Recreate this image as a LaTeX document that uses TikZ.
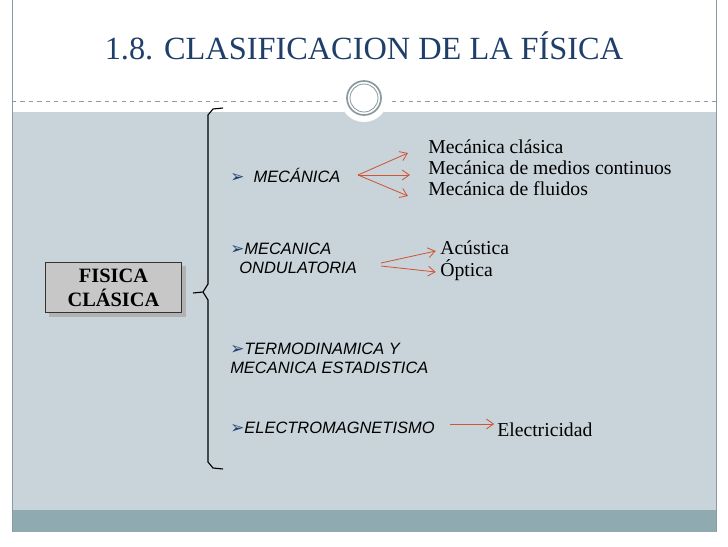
\documentclass[tikz,border=0pt]{standalone}
\usepackage{fontspec}
\setmainfont{Liberation Serif}
\setsansfont{Liberation Sans}
\newfontfamily\symbolfont{DejaVu Sans}
\usepackage{tikz}
\usetikzlibrary{arrows.meta, positioning, decorations.pathreplacing}
\definecolor{titleblue}{HTML}{1F3F6A}
\definecolor{panelgray}{HTML}{C9D4DA}
\definecolor{bandteal}{HTML}{8FAAB1}
\definecolor{arrowred}{HTML}{D0563A}
\definecolor{framegray}{HTML}{8A9AA0}
\newcommand{\bul}{\textcolor{titleblue}{\upshape\symbolfont\fontsize{12}{12}\selectfont ➢}}
\tikzset{
  topic/.style={font=\sffamily\itshape\fontsize{11.7}{13.5}\selectfont, anchor=west, align=left, inner sep=0pt},
  leaf/.style={font=\fontsize{14}{15}\selectfont, anchor=west, align=left, inner sep=0pt},
  link/.style={arrowred, line width=0.6pt, -{Straight Barb[length=5pt,width=7pt]}}
}
\begin{document}
\begin{tikzpicture}[x=0.025cm, y=-0.025cm]
  \useasboundingbox (0,0) rectangle (728,546);
  \fill[white] (0,0) rectangle (728,546);

  % Panel and bottom band
  \fill[panelgray] (12,112) rectangle (716,510);
  \fill[bandteal] (12,510) rectangle (716,532);
  \draw[framegray, line width=0.6pt] (12,0) -- (12,532) (716,0) -- (716,532);
  \draw[framegray, dashed, line width=0.5pt] (12,101) -- (716,101);

  % Title and ring
  \node[titleblue, font=\fontsize{23}{26}\selectfont] (title) at (364,46) {1.8. CLASIFICACION DE LA FÍSICA};
  \fill[white] (364,98) circle (24);
  \draw[framegray, line width=1.2pt] (364,98) circle (17);
  \draw[framegray, line width=0.6pt] (364,98) circle (14);

  % Root box
  \fill[gray!60] (49,266) rectangle (186,317);
  \node[draw=black!80, fill=black!22, line width=0.8pt, minimum width=3.42cm, minimum height=1.27cm,
        font=\bfseries\fontsize{14.5}{17}\selectfont, align=center] (root) at (113.5,287.5) {FISICA\\CLÁSICA};
  \draw[line width=0.8pt] (223,108) -- (213,109) -- (208,115) -- (208,284) -- (203,292) -- (193,293)
        (203,292) -- (208,300) -- (208,462) -- (213,468) -- (223,469);

  % Topics
  \node[topic] (mec) at (230,175) {\bul\ \ MECÁNICA};
  \node[topic] (ond) at (230,258) {\bul MECANICA\\\ \ ONDULATORIA};
  \node[topic] (ter) at (230,358) {\bul TERMODINAMICA Y\\MECANICA ESTADISTICA};
  \node[topic] (ele) at (230,428) {\bul ELECTROMAGNETISMO};

  % Leaves
  \node[leaf] (clas) at (428,147) {Mecánica clásica};
  \node[leaf] (cont) at (428,168) {Mecánica de medios continuos};
  \node[leaf] (flui) at (428,189) {Mecánica de fluidos};
  \node[leaf] (acus) at (440,248) {Acústica};
  \node[leaf] (opti) at (440,270) {Óptica};
  \node[leaf] (elec) at (497,430) {Electricidad};

  % Connectors
  \coordinate (mecfork) at (358,175);
  \draw[link] (mecfork) -- (408,153);
  \draw[link] (mecfork) -- (410,175);
  \draw[link] (mecfork) -- (408,196);
  \draw[link] (381,263) -- ([xshift=-3pt]acus.west |- 0,251);
  \draw[link] (381,266) -- ([xshift=-3pt]opti.west |- 0,272);
  \draw[link] (450,424) -- ([xshift=-2pt]elec.west |- 0,424);
\end{tikzpicture}
\end{document}
